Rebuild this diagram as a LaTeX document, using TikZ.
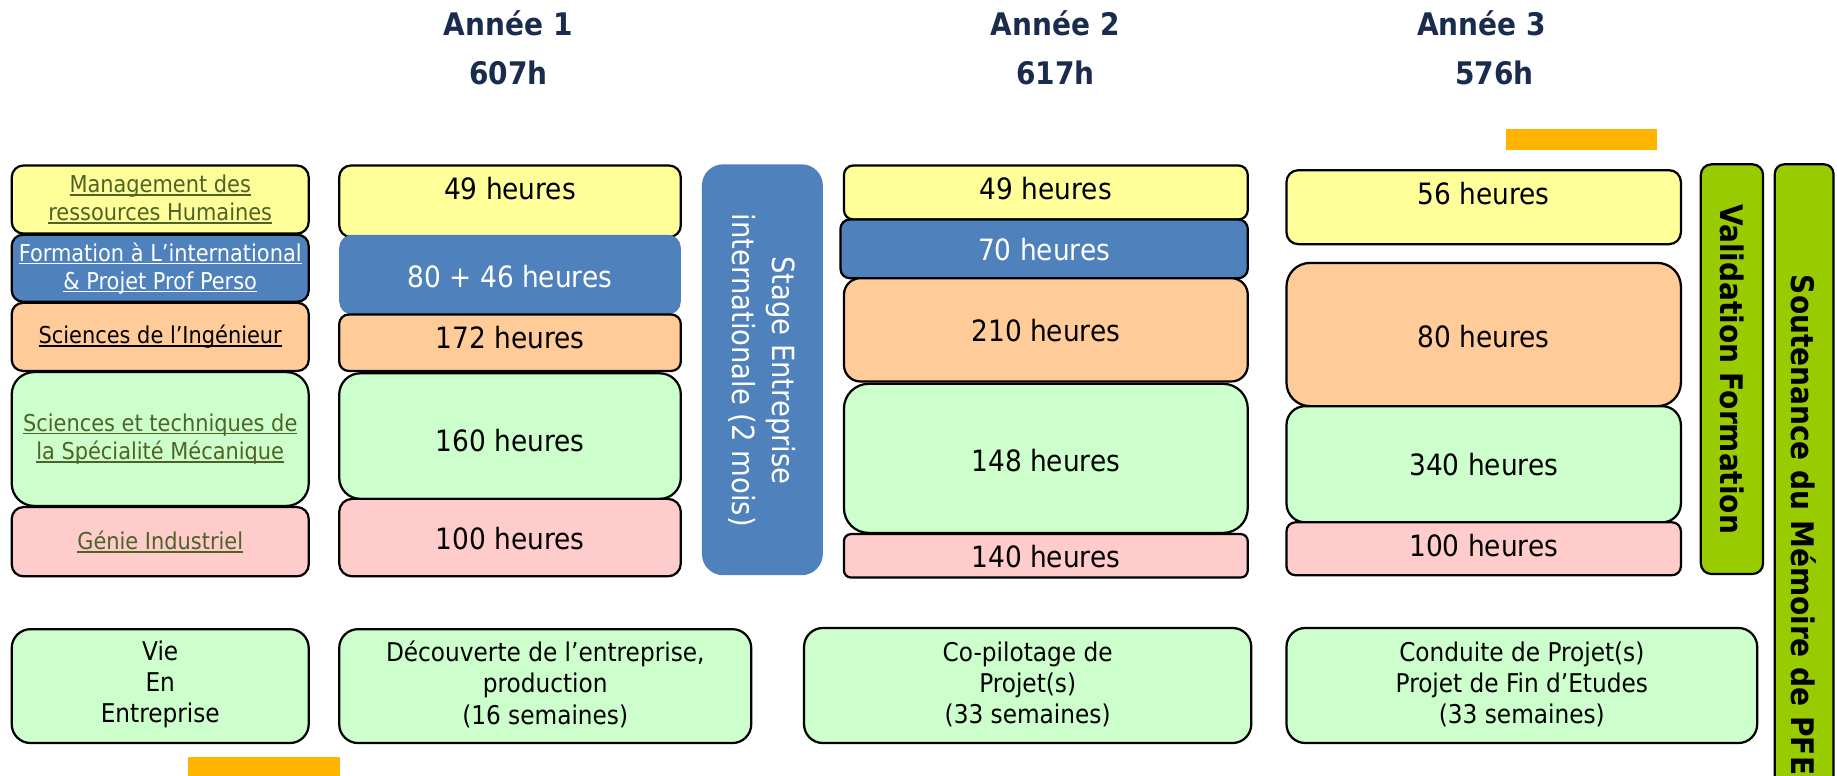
\documentclass[tikz,border=0pt]{standalone}
\usepackage{fontspec}
\setmainfont{DejaVu Sans Condensed}

\definecolor{fondjaune}{HTML}{FFFF99}
\definecolor{fondbleu}{HTML}{4F81BD}
\definecolor{fondsaumon}{HTML}{FFCC99}
\definecolor{fondvert}{HTML}{CCFFCC}
\definecolor{fondrose}{HTML}{FFCCCC}
\definecolor{fondanis}{HTML}{99CC00}
\definecolor{barreor}{HTML}{FFB400}
\definecolor{texteolive}{HTML}{4F6228}
\definecolor{titrebleu}{HTML}{1A2C4E}

\newcommand\souligne[1]{\setbox0\hbox{#1}\rlap{\rule[-2.6pt]{\wd0}{1.3pt}}\box0}

\tikzset{
  cadre/.style={draw=black,line width=1.9pt},
  jaune/.style={cadre,fill=fondjaune},
  bleu/.style={cadre,fill=fondbleu},
  saumon/.style={cadre,fill=fondsaumon},
  vert/.style={cadre,fill=fondvert},
  rose/.style={cadre,fill=fondrose},
  anis/.style={cadre,fill=fondanis},
  titre/.style={font=\bfseries\fontsize{26.5}{30}\selectfont,text=titrebleu},
  matiere/.style={font=\fontsize{19.8}{24}\selectfont,align=center},
  heures/.style={font=\fontsize{25}{30}\selectfont},
  periode/.style={font=\fontsize{22}{26.5}\selectfont,align=center},
  vertical/.style={rotate=-90,font=\bfseries\fontsize{26.5}{30}\selectfont}
}

\begin{document}
\begin{tikzpicture}[x=1pt,y=-1pt]
	\useasboundingbox (0,0) rectangle (1565,661);
	\clip (0,0) rectangle (1565,661);
	% en-tetes des annees
	\node[titre] (an1) at (433,20) {Année 1};
	\node[titre] (tot1) at (433,62) {607h};
	\node[titre] (an2) at (899,20) {Année 2};
	\node[titre] (tot2) at (899,62) {617h};
	\node[titre] (an3) at (1262,20) {Année 3};
	\node[titre] (tot3) at (1273,62) {576h};
	\fill[barreor] (1283,110) rectangle (1412,128);
	\fill[barreor] (160,645) rectangle (290,670);
	% matieres
	\filldraw[jaune,rounded corners=10pt] (10,141) rectangle (263,199);
	\node[matiere,text=texteolive] (mrh) at (136.5,170) {\souligne{Management des}\\\souligne{ressources Humaines}};
	\filldraw[bleu,rounded corners=9.5pt] (10,200) rectangle (263,257);
	\node[matiere,text=white] (fi) at (136.5,228.5) {\souligne{Formation à L’international}\\\souligne{\& Projet Prof Perso}};
	\filldraw[saumon,rounded corners=9.5pt] (10,258) rectangle (263,316);
	\node[matiere] (si) at (136.5,287) {\souligne{Sciences de l’Ingénieur}};
	\filldraw[vert,rounded corners=19pt] (10,317) rectangle (263,431);
	\node[matiere,text=texteolive] (stm) at (136.5,374) {\souligne{Sciences et techniques de}\\\souligne{la Spécialité Mécanique}};
	\filldraw[rose,rounded corners=10pt] (10,432) rectangle (263,491);
	\node[matiere,text=texteolive] (gi) at (136.5,461.5) {\souligne{Génie Industriel}};
	% annee 1
	\filldraw[jaune,rounded corners=10pt] (289,141) rectangle (580,202);
	\node[heures] (a1mrh) at (434.5,160.5) {49 heures};
	\fill[fondbleu,rounded corners=11pt] (289,200) rectangle (580,268);
	\node[heures,text=white] (a1fi) at (434.5,236) {80 + 46 heures};
	\filldraw[saumon,rounded corners=8pt] (289,268) rectangle (580,316);
	\node[heures] (a1si) at (434.5,288) {172 heures};
	\filldraw[vert,rounded corners=18pt] (289,318) rectangle (580,425);
	\node[heures] (a1stm) at (434.5,375) {160 heures};
	\filldraw[rose,rounded corners=11pt] (289,425) rectangle (580,491);
	\node[heures] (a1gi) at (434.5,459) {100 heures};
	% stage
	\fill[fondbleu,rounded corners=18pt] (598,140) rectangle (701,490);
	\node[font=\fontsize{26}{34}\selectfont,align=center,text=white,rotate=-90] (stage) at (649.5,315.5) {Stage Entreprise\\internationale (2 mois)};
	% annee 2
	\filldraw[jaune,rounded corners=8pt] (719,141) rectangle (1063,187);
	\node[heures] (a2mrh) at (891,160.5) {49 heures};
	\filldraw[bleu,rounded corners=8pt] (716,187) rectangle (1063,237);
	\node[heures,text=white] (a2fi) at (889.5,213) {70 heures};
	\filldraw[saumon,rounded corners=14pt] (719,237) rectangle (1063,325);
	\node[heures] (a2si) at (891,281.5) {210 heures};
	\filldraw[vert,rounded corners=21pt] (719,327) rectangle (1063,454);
	\node[heures] (a2stm) at (891,392) {148 heures};
	\filldraw[rose,rounded corners=6pt] (719,455) rectangle (1063,492);
	\node[heures] (a2gi) at (891,474.5) {140 heures};
	% annee 3
	\filldraw[jaune,rounded corners=10pt] (1096,145) rectangle (1432,208);
	\node[heures] (a3mrh) at (1264,165) {56 heures};
	\filldraw[saumon,rounded corners=20pt] (1096,224) rectangle (1432,346);
	\node[heures] (a3si) at (1264,287) {80 heures};
	\filldraw[vert,rounded corners=16pt] (1096,346) rectangle (1432,445);
	\node[heures] (a3stm) at (1264,396) {340 heures};
	\filldraw[rose,rounded corners=7.5pt] (1096,445) rectangle (1432,490);
	\node[heures] (a3gi) at (1264,465) {100 heures};
	% validation et soutenance
	\filldraw[anis,rounded corners=9pt] (1449,140) rectangle (1502,489);
	\node[vertical] (valid) at (1475.5,314.5) {Validation Formation};
	\filldraw[anis,rounded corners=8pt] (1512,140) rectangle (1562,720);
	\node[vertical,anchor=west,inner sep=0pt] (soutien) at (1537,234) {Soutenance du Mémoire de PFE};
	% periodes en entreprise
	\filldraw[vert,rounded corners=16pt] (10,536) rectangle (263,633);
	\node[periode] (vie) at (136.5,583) {Vie\\En\\Entreprise};
	\filldraw[vert,rounded corners=16pt] (289,536) rectangle (640,633);
	\node[periode] (p1) at (464.5,583) {Découverte de l’entreprise,\\production\\(16 semaines)};
	\filldraw[vert,rounded corners=16pt] (685,535) rectangle (1066,633);
	\node[periode] (p2) at (875.5,583) {Co-pilotage de\\Projet(s)\\(33 semaines)};
	\filldraw[vert,rounded corners=16pt] (1096,535) rectangle (1497,633);
	\node[periode] (p3) at (1296.5,583) {Conduite de Projet(s)\\Projet de Fin d’Etudes\\(33 semaines)};
\end{tikzpicture}
\end{document}
